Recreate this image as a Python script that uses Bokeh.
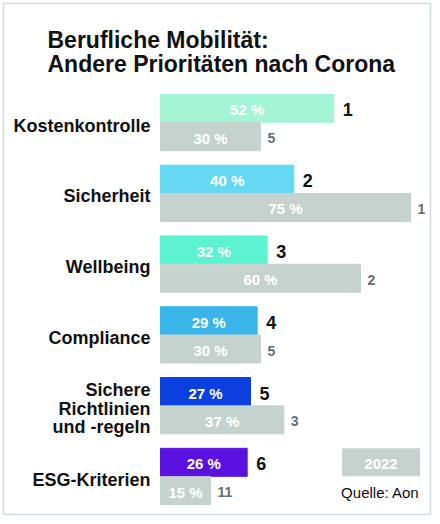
from bokeh.plotting import figure
from bokeh.models import Range1d, ColumnDataSource
from bokeh.core.properties import value
from bokeh.embed import file_html
from bokeh.resources import INLINE

# ---- data ----
title_lines = ["Berufliche Mobilität:", "Andere Prioritäten nach Corona"]
categories = ["Kostenkontrolle", "Sicherheit", "Wellbeing", "Compliance",
              "Sichere\nRichtlinien\nund -regeln", "ESG-Kriterien"]
values_now = [52, 40, 32, 29, 27, 26]
ranks_now = [1, 2, 3, 4, 5, 6]
values_2022 = [30, 75, 60, 30, 37, 15]
ranks_2022 = [5, 1, 2, 5, 3, 11]
colors_now = ["#a3f5d6", "#66d9f2", "#5cf4d0", "#3ab5ea", "#0b3fe0", "#5b12e0"]
gray = "#c6d2ce"
legend_label = "2022"
source_label = "Quelle: Aon"

FONT = "Liberation Sans"
W, H = 432, 516
PX_PER_PCT = 10 / 3.0
ZERO_PX = 160
PX_PER_GROUP = 70.8
GROUP0_PX = 122

p = figure(width=W, height=H, output_backend="svg", toolbar_location=None,
           x_axis_type=None, y_axis_type=None, min_border=0,
           x_range=Range1d(-ZERO_PX / PX_PER_PCT, (W - ZERO_PX) / PX_PER_PCT),
           y_range=Range1d((H - GROUP0_PX) / PX_PER_GROUP, -GROUP0_PX / PX_PER_GROUP))
p.grid.visible = False
p.outline_line_color = None
p.background_fill_color = "white"
p.border_fill_color = "white"

n = len(categories)
idx = list(range(n))
bh = 28 / PX_PER_GROUP
off = 0.2
px = 1 / PX_PER_GROUP  # one pixel in y units
pxx = 1 / PX_PER_PCT   # one pixel in x units

# frame border
p.quad(left=[-157 * pxx], right=[270 * pxx], top=[-119 * px], bottom=[392 * px],
       fill_color=None, line_color="#d3dce2", line_width=1.5)

src_now = ColumnDataSource(dict(
    y=[i - off for i in idx], v=values_now, c=colors_now,
    mid=[v / 2 for v in values_now], lab=[f"{v} %" for v in values_now],
    rx=[v + 9 * pxx for v in values_now], rk=[str(r) for r in ranks_now],
    ty=[i - off + 1.5 * px for i in idx]))
src_old = ColumnDataSource(dict(
    y=[i + off for i in idx], v=values_2022,
    mid=[v / 2 for v in values_2022], lab=[f"{v} %" for v in values_2022],
    rx=[v + 7 * pxx for v in values_2022], rk=[str(r) for r in ranks_2022],
    ty=[i + off + 1.5 * px for i in idx]))

p.hbar(y="y", left=0, right="v", height=bh, color="c", source=src_now)
p.hbar(y="y", left=0, right="v", height=bh, color=gray, source=src_old)

for src in (src_now, src_old):
    p.text(x="mid", y="ty", text="lab", source=src, text_color="white",
           text_font=value(FONT), text_font_style="bold", text_font_size="15px",
           text_align="center", text_baseline="middle")

p.text(x="rx", y="ty", text="rk", source=src_now, text_color="#111111",
       text_font=value(FONT), text_font_style="bold", text_font_size="18px",
       text_align="left", text_baseline="middle")
p.text(x="rx", y="ty", text="rk", source=src_old, text_color="#626e73",
       text_font=value(FONT), text_font_style="bold", text_font_size="14px",
       text_align="left", text_baseline="middle")

# category labels (split multi-line labels)
cx, cy, ct = [], [], []
line_h = 18.5 * px
for i, cat in enumerate(categories):
    parts = cat.split("\n")
    k = len(parts)
    for j, part in enumerate(parts):
        cx.append(-10 * pxx)
        cy.append(i + 3 * px + (j - (k - 1) / 2) * line_h)
        ct.append(part)
p.text(x=cx, y=cy, text=ct, text_color="#111111", text_font=value(FONT),
       text_font_style="bold", text_font_size="18px",
       text_align="right", text_baseline="middle")

# title
tx = -113 * pxx
p.text(x=[tx, tx], y=[-83 * px, -59 * px], text=title_lines, text_color="#111111",
       text_font=value(FONT), text_font_style="bold", text_font_size="23px",
       text_align="left", text_baseline="alphabetic")

# legend box
lx0, lx1 = 182 * pxx, 259 * pxx
ly = n - 1 - off
p.hbar(y=[ly], left=[lx0], right=[lx1], height=27 * px, color=gray)
p.text(x=[(lx0 + lx1) / 2], y=[ly + 1.5 * px], text=[legend_label], text_color="white",
       text_font=value(FONT), text_font_style="bold", text_font_size="15px",
       text_align="center", text_baseline="middle")
p.text(x=[lx1], y=[n - 1 + off + 2 * px], text=[source_label], text_color="#111111",
       text_font=value(FONT), text_font_size="15px",
       text_align="right", text_baseline="middle")

open("out.html", "w").write(file_html(p, INLINE))
